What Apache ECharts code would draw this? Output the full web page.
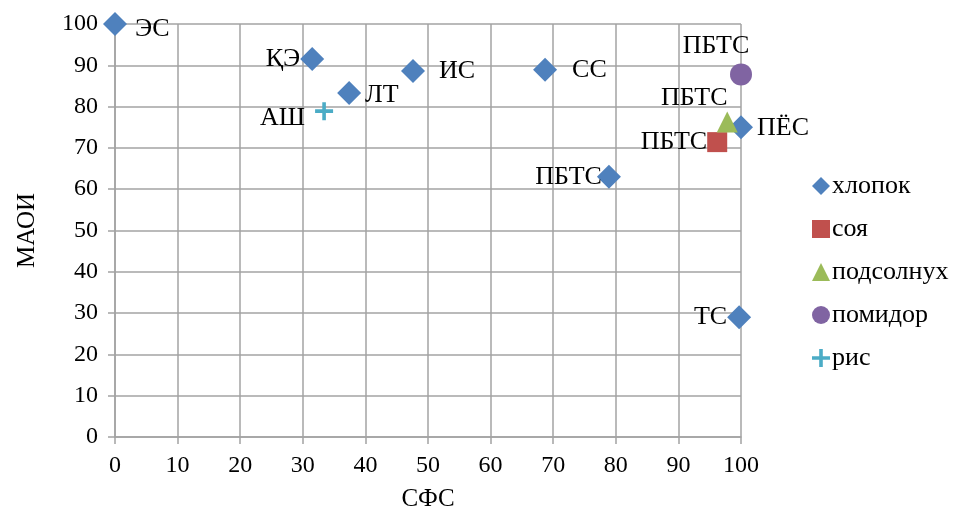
<!DOCTYPE html>
<html>
<head>
<meta charset="utf-8">
<script src="https://cdn.jsdelivr.net/npm/echarts@6/dist/echarts.min.js"></script>
<style>
  html, body { margin: 0; padding: 0; background: #fff; }
  #chart { width: 966px; height: 510px; }
</style>
</head>
<body>
<div id="chart"></div>
<script>
// хлопок
var cottonX = [0, 31.5, 37.4, 47.6, 68.7, 78.9, 100, 99.7];
var cottonY = [100, 91.5, 83.3, 88.6, 88.9, 63.0, 75, 29];
var cottonNames = ["ЭС", "ҚЭ", "ЛТ", "ИС", "СС", "ПБТС", "ПЁС", "ТС"];
// соя, подсолнух, помидор, рис
var soyX = [96.2], soyY = [71.4], soyNames = ["ПБТС"];
var sunX = [97.8], sunY = [76.3], sunNames = ["ПБТС"];
var tomX = [100], tomY = [87.8], tomNames = ["ПБТС"];
var riceX = [33.4], riceY = [78.9], riceNames = ["АШ"];

var seriesNames = ["хлопок", "соя", "подсолнух", "помидор", "рис"];
var xTicks = [0, 100, 10];
var yTicks = [0, 100, 10];

var FONT = "Liberation Serif";
var plus = "path://M4,0 H6 V4 H10 V6 H6 V10 H4 V6 H0 V4 H4 Z";

// label placement for the cotton points (style, not data)
var cottonLabelCfg = [
  { position: "right", distance: 8, offset: [0, 5] },
  { position: "left", distance: 0 },
  { position: "right", distance: 4, offset: [0, 2] },
  { position: "right", distance: 14 },
  { position: "right", distance: 15 },
  { position: "left", distance: -5 },
  { position: "right", distance: 4, offset: [0, 1] },
  { position: "left", distance: 0 }
];

function pts(xs, ys, names, cfg) {
  return xs.map(function (x, i) {
    var p = { value: [x, ys[i]], name: names[i] };
    if (cfg) p.label = cfg[i];
    return p;
  });
}

var labelStyle = {
  show: true,
  formatter: "{b}",
  color: "#000",
  fontFamily: FONT,
  fontSize: 26
};

var gridColor = "#a3a3a3";

var chart = echarts.init(document.getElementById("chart"));
chart.setOption({
  animation: false,
  textStyle: { fontFamily: FONT },
  grid: {
    left: 115, right: 225, top: 24, bottom: 73,
    containLabel: false,
    outerBoundsMode: "none"
  },
  legend: {
    orient: "vertical",
    left: 807,
    top: 168,
    itemGap: 17,
    itemWidth: 18,
    itemHeight: 18,
    textStyle: { fontFamily: FONT, fontSize: 26, lineHeight: 22, color: "#000", padding: [0, 0, 0, -3] },
    data: [
      { name: seriesNames[0], icon: "diamond" },
      { name: seriesNames[1], icon: "rect" },
      { name: seriesNames[2], icon: "triangle" },
      { name: seriesNames[3], icon: "circle" },
      { name: seriesNames[4], icon: plus }
    ]
  },
  xAxis: {
    type: "value",
    min: xTicks[0], max: xTicks[1], interval: xTicks[2],
    name: "СФС",
    nameLocation: "middle",
    nameGap: 50,
    nameTextStyle: { fontFamily: FONT, fontSize: 25, color: "#000" },
    axisLine: { lineStyle: { color: gridColor, width: 1.5 } },
    axisTick: { show: true, length: 7, lineStyle: { color: gridColor, width: 1.5 } },
    axisLabel: { fontFamily: FONT, fontSize: 24, color: "#000", margin: 17 },
    splitLine: { show: true, lineStyle: { color: gridColor, width: 1.5 } }
  },
  yAxis: {
    type: "value",
    min: yTicks[0], max: yTicks[1], interval: yTicks[2],
    name: "МАОИ",
    nameLocation: "middle",
    nameGap: 75,
    nameTextStyle: { fontFamily: FONT, fontSize: 25, color: "#000" },
    axisLine: { show: true, lineStyle: { color: gridColor, width: 1.5 } },
    axisTick: { show: true, length: 7, lineStyle: { color: gridColor, width: 1.5 } },
    axisLabel: { fontFamily: FONT, fontSize: 24, color: "#000", margin: 17 },
    splitLine: { show: true, lineStyle: { color: gridColor, width: 1.5 } }
  },
  series: [
    {
      name: seriesNames[0], type: "scatter", symbol: "diamond", symbolSize: 24,
      itemStyle: { color: "#4f81bd", opacity: 1 },
      label: labelStyle,
      data: pts(cottonX, cottonY, cottonNames, cottonLabelCfg)
    },
    {
      name: seriesNames[1], type: "scatter", symbol: "rect", symbolSize: 20,
      itemStyle: { color: "#c0504d", opacity: 1 },
      label: Object.assign({}, labelStyle, { position: "left", distance: 0 }),
      data: pts(soyX, soyY, soyNames)
    },
    {
      name: seriesNames[2], type: "scatter", symbol: "triangle", symbolSize: 21,
      itemStyle: { color: "#9bbb59", opacity: 1 },
      label: Object.assign({}, labelStyle, { position: "top", distance: 0, offset: [-33, 0] }),
      data: pts(sunX, sunY, sunNames)
    },
    {
      name: seriesNames[3], type: "scatter", symbol: "circle", symbolSize: 22,
      itemStyle: { color: "#8064a2", opacity: 1 },
      label: Object.assign({}, labelStyle, { position: "top", distance: 4, offset: [-25, 0] }),
      data: pts(tomX, tomY, tomNames)
    },
    {
      name: seriesNames[4], type: "scatter", symbol: plus, symbolSize: 18,
      itemStyle: { color: "#4bacc6", opacity: 1 },
      label: Object.assign({}, labelStyle, { position: "left", distance: 10, offset: [0, 7] }),
      data: pts(riceX, riceY, riceNames)
    }
  ]
});
</script>
</body>
</html>
